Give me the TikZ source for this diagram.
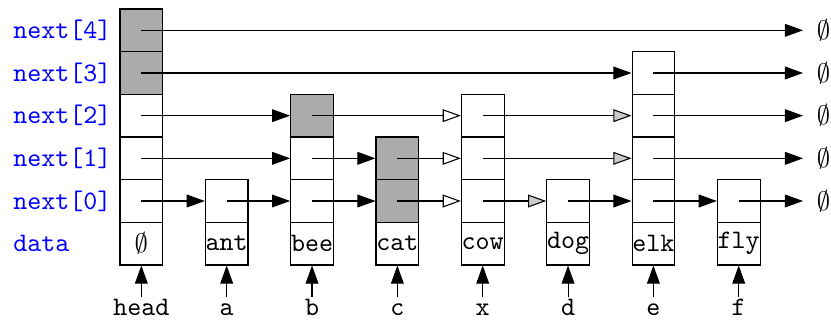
\documentclass[tikz,border=0pt]{standalone}
\usetikzlibrary{arrows.meta}
\begin{document}
\begin{tikzpicture}[x=16pt,y=16pt,
  cell/.style={draw,minimum width=16pt,minimum height=16pt,inner sep=0pt,font=\ttfamily},
  full/.style={cell,fill=black!33},
  tip/.style={-{Triangle[length=6.8pt,width=4.8pt]}},
  tipw/.style={-{Triangle[length=6.8pt,width=4.8pt,fill=white]}},
  tipg/.style={-{Triangle[length=6.8pt,width=4.8pt,fill=black!20]}},
  lvl/.style={anchor=west,font=\ttfamily,text=blue,inner sep=0pt},
  var/.style={font=\ttfamily,anchor=base,text height=6.5pt,text depth=2pt,inner ysep=0.5pt},
  nil/.style={anchor=west,inner xsep=5pt,inner ysep=0pt}
]
\useasboundingbox (0,0) rectangle (19.475,7.523);

% row labels
\node[lvl] (ld) at (0.3,1.8125) {data};
\node[lvl] (l0) at (0.3,2.8125) {next[0]};
\node[lvl] (l1) at (0.3,3.8125) {next[1]};
\node[lvl] (l2) at (0.3,4.8125) {next[2]};
\node[lvl] (l3) at (0.3,5.8125) {next[3]};
\node[lvl] (l4) at (0.3,6.8125) {next[4]};

% head
\node[cell] (head-d) at (3.3125,1.8125) {$\emptyset$};
\node[cell] (head-0) at (3.3125,2.8125) {};
\node[cell] (head-1) at (3.3125,3.8125) {};
\node[cell] (head-2) at (3.3125,4.8125) {};
\node[full] (head-3) at (3.3125,5.8125) {};
\node[full] (head-4) at (3.3125,6.8125) {};
% ant
\node[cell] (ant-d) at (5.3125,1.8125) {ant};
\node[cell] (ant-0) at (5.3125,2.8125) {};
% bee
\node[cell] (bee-d) at (7.3125,1.8125) {bee};
\node[cell] (bee-0) at (7.3125,2.8125) {};
\node[cell] (bee-1) at (7.3125,3.8125) {};
\node[full] (bee-2) at (7.3125,4.8125) {};
% cat
\node[cell] (cat-d) at (9.3125,1.8125) {cat};
\node[full] (cat-0) at (9.3125,2.8125) {};
\node[full] (cat-1) at (9.3125,3.8125) {};
% cow
\node[cell] (cow-d) at (11.3125,1.8125) {cow};
\node[cell] (cow-0) at (11.3125,2.8125) {};
\node[cell] (cow-1) at (11.3125,3.8125) {};
\node[cell] (cow-2) at (11.3125,4.8125) {};
% dog
\node[cell] (dog-d) at (13.3125,1.8125) {dog};
\node[cell] (dog-0) at (13.3125,2.8125) {};
% elk
\node[cell] (elk-d) at (15.3125,1.8125) {elk};
\node[cell] (elk-0) at (15.3125,2.8125) {};
\node[cell] (elk-1) at (15.3125,3.8125) {};
\node[cell] (elk-2) at (15.3125,4.8125) {};
\node[cell] (elk-3) at (15.3125,5.8125) {};
% fly
\node[cell] (fly-d) at (17.3125,1.8125) {fly};
\node[cell] (fly-0) at (17.3125,2.8125) {};

% list ends
\node[nil] (nil0) at (18.82,2.8125) {$\emptyset$};
\node[nil] (nil1) at (18.82,3.8125) {$\emptyset$};
\node[nil] (nil2) at (18.82,4.8125) {$\emptyset$};
\node[nil] (nil3) at (18.82,5.8125) {$\emptyset$};
\node[nil] (nil4) at (18.82,6.8125) {$\emptyset$};

% level 4
\draw[tip] (head-4.center) -- (nil4.west);
% level 3
\draw[tip] (head-3.center) -- (elk-3.west);
\draw[tip] (elk-3.center) -- (nil3.west);
% level 2
\draw[tip]  (head-2.center) -- (bee-2.west);
\draw[tipw] (bee-2.center) -- (cow-2.west);
\draw[tipg] (cow-2.center) -- (elk-2.west);
\draw[tip]  (elk-2.center) -- (nil2.west);
% level 1
\draw[tip]  (head-1.center) -- (bee-1.west);
\draw[tip]  (bee-1.center) -- (cat-1.west);
\draw[tipw] (cat-1.center) -- (cow-1.west);
\draw[tipg] (cow-1.center) -- (elk-1.west);
\draw[tip]  (elk-1.center) -- (nil1.west);
% level 0
\draw[tip]  (head-0.center) -- (ant-0.west);
\draw[tip]  (ant-0.center) -- (bee-0.west);
\draw[tip]  (bee-0.center) -- (cat-0.west);
\draw[tipw] (cat-0.center) -- (cow-0.west);
\draw[tipg] (cow-0.center) -- (dog-0.west);
\draw[tip]  (dog-0.center) -- (elk-0.west);
\draw[tip]  (elk-0.center) -- (fly-0.west);
\draw[tip]  (fly-0.center) -- (nil0.west);

% pointer variables
\node[var] (vh) at (3.3125,0.124) {head};
\node[var] (va) at (5.3125,0.124) {a};
\node[var] (vb) at (7.3125,0.124) {b};
\node[var] (vc) at (9.3125,0.124) {c};
\node[var] (vx) at (11.3125,0.124) {x};
\node[var] (vd) at (13.3125,0.124) {d};
\node[var] (ve) at (15.3125,0.124) {e};
\node[var] (vf) at (17.3125,0.124) {f};
\draw[tip] (vh.north) -- (head-d.south);
\draw[tip] (va.north) -- (ant-d.south);
\draw[tip] (vb.north) -- (bee-d.south);
\draw[tip] (vc.north) -- (cat-d.south);
\draw[tip] (vx.north) -- (cow-d.south);
\draw[tip] (vd.north) -- (dog-d.south);
\draw[tip] (ve.north) -- (elk-d.south);
\draw[tip] (vf.north) -- (fly-d.south);
\end{tikzpicture}
\end{document}
